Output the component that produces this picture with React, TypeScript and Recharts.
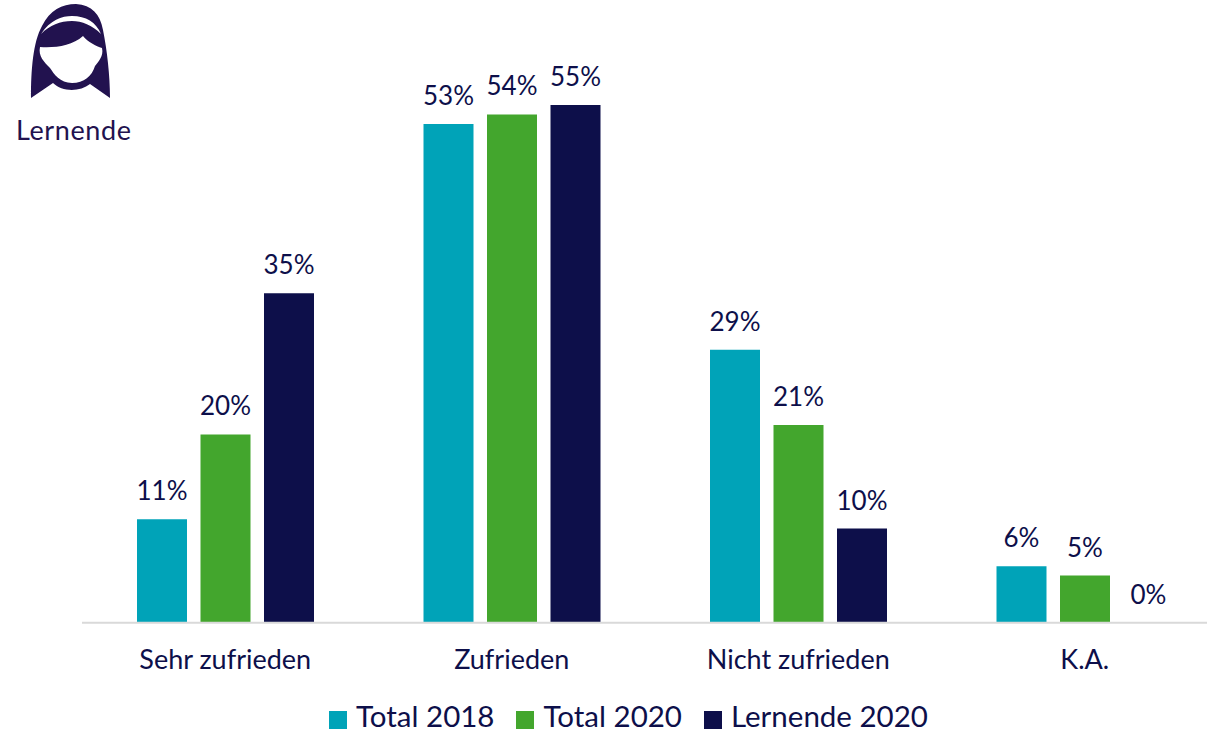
import { Bar, BarChart, LabelList, Legend, XAxis, YAxis } from "recharts";

const categories = ["Sehr zufrieden", "Zufrieden", "Nicht zufrieden", "K.A."];
const total2018 = [11, 53, 29, 6];
const total2020 = [20, 54, 21, 5];
const lernende2020 = [35, 55, 10, 0];

const INK = "#0d0f4a";
const LOGO = "#22124f";
const FONT = "Lato, 'Open Sans', sans-serif";

const data = categories.map((name, i) => ({
  name,
  total2018: total2018[i],
  total2020: total2020[i],
  lernende2020: lernende2020[i],
}));

const series = [
  { key: "total2018", label: "Total 2018", color: "#00a3b8" },
  { key: "total2020", label: "Total 2020", color: "#43a62d" },
  { key: "lernende2020", label: "Lernende 2020", color: INK },
];

function Logo() {
  return (
    <div style={{ position: "absolute", left: 0, top: 0, width: 150, height: 150 }}>
      <svg width={150} height={105} style={{ display: "block" }}>
        <path
          d="M31 98 C31 70 33 42 42 26 C50 10 62 4 76 4 C92 5 100 14 103 30 C107 50 110 75 110 98 L90 84 C80 92 62 92 53 83 Z"
          fill={LOGO}
        />
        <path
          d="M41 34 C50 20 62 16 72 16 C86 16 96 22 101 34 C92 25 82 21 72 21 C60 21 50 25 41 34 Z"
          fill="#fff"
        />
        <path
          d="M40 47 C55 48 72 46 83 36 C88 42 96 46 102 48 C104 56 98 62 95 66 C92 76 84 83 72 83 C60 83 54 74 50 68 C44 62 38 56 40 47 Z"
          fill="#fff"
        />
      </svg>
      <div
        style={{
          position: "absolute",
          left: 16,
          top: 112,
          fontFamily: FONT,
          fontWeight: 400,
          fontSize: 27,
          lineHeight: "36px",
          letterSpacing: 0.6,
          color: LOGO,
        }}
      >
        Lernende
      </div>
    </div>
  );
}

export default function App() {
  return (
    <div
      style={{
        position: "absolute",
        left: 0,
        top: 0,
        width: 1207,
        height: 732,
        overflow: "hidden",
        background: "#fff",
      }}
    >
      <BarChart
        width={1240}
        height={732}
        data={data}
        margin={{ top: 58, right: 12, bottom: 49, left: 82 }}
        barSize={50}
        barGap={13.5}
      >
        <XAxis
          dataKey="name"
          axisLine={{ stroke: "#d9d9d9", strokeWidth: 2 }}
          tickLine={false}
          tick={{ fill: INK, fontSize: 27, fontFamily: FONT }}
          tickMargin={21}
          interval={0}
        />
        <YAxis hide domain={[0, 60]} />
        <Legend
          iconType="square"
          iconSize={18}
          itemSorter={null}
          formatter={(value) => (
            <span
              style={{
                color: INK,
                fontSize: 29.5,
                lineHeight: "28px",
                fontFamily: FONT,
                marginLeft: 5,
                marginRight: 12,
                position: "relative",
                top: 3,
              }}
            >
              {value}
            </span>
          )}
          wrapperStyle={{ left: 329, top: 699, width: 700, bottom: "auto", textAlign: "left" }}
          align="left"
          verticalAlign="bottom"
        />
        {series.map((s) => (
          <Bar
            key={s.key}
            dataKey={s.key}
            name={s.label}
            fill={s.color}
            minPointSize={0.01}
            isAnimationActive={false}
          >
            <LabelList
              dataKey={s.key}
              position="top"
              offset={19}
              formatter={(v: number) => `${v}%`}
              style={{ fill: INK, fontSize: 26, fontFamily: FONT }}
            />
          </Bar>
        ))}
      </BarChart>
      <Logo />
    </div>
  );
}
